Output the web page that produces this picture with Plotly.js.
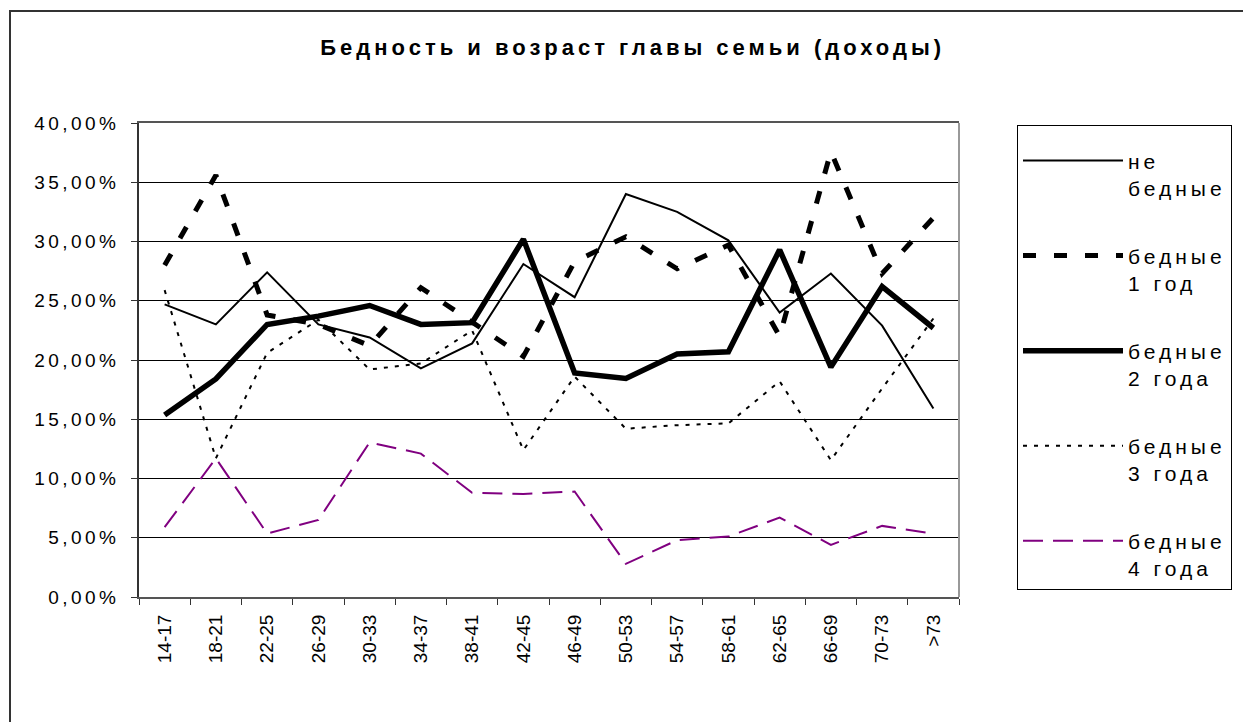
<!DOCTYPE html>
<html>
<head>
<meta charset="utf-8">
<script src="https://cdn.plot.ly/plotly-3.0.1.min.js"></script>
<style>
  html, body { margin: 0; padding: 0; background: #fff; }
  #wrap { position: relative; width: 1243px; height: 722px; overflow: hidden; }
  #frame { position: absolute; left: 9px; top: 10px; width: 1300px; height: 800px;
           border-left: 2px solid #333; border-top: 2px solid #333; pointer-events: none; }
  #chart { position: absolute; left: 0; top: 0; width: 1243px; height: 722px; }
  .gtitle { letter-spacing: 4px; }
  .ytick text { letter-spacing: 3.4px; }
  .legendtext { letter-spacing: 4px; }
</style>
</head>
<body>
<div id="wrap">
  <div id="chart"></div>
  <div id="frame"></div>
</div>
<script>
const categories = ['14-17','18-21','22-25','26-29','30-33','34-37','38-41','42-45','46-49','50-53','54-57','58-61','62-65','66-69','70-73','>73'];
const seriesNames = ['не<br>бедные', 'бедные<br>1 год', 'бедные<br>2 года', 'бедные<br>3 года', 'бедные<br>4 года'];
const notPoor = [24.7, 23.0, 27.4, 23.0, 21.9, 19.3, 21.4, 28.1, 25.3, 34.0, 32.5, 30.1, 24.0, 27.3, 22.9, 15.9];
const poor1   = [28.0, 35.6, 23.8, 23.0, 21.2, 26.1, 23.2, 20.3, 28.3, 30.4, 27.7, 29.7, 22.0, 37.6, 27.3, 32.0];
const poor2   = [15.35, 18.4, 23.0, 23.7, 24.6, 23.0, 23.15, 30.2, 18.9, 18.45, 20.5, 20.7, 29.3, 19.4, 26.2, 22.7];
const poor3   = [25.9, 11.7, 20.6, 23.4, 19.2, 19.7, 22.5, 12.4, 18.6, 14.2, 14.5, 14.65, 18.2, 11.55, 17.6, 23.5];
const poor4   = [5.9, 11.7, 5.35, 6.5, 13.05, 12.1, 8.8, 8.7, 8.9, 2.8, 4.8, 5.1, 6.7, 4.4, 6.0, 5.35];

const styles = [
  {color: '#000000', width: 2, dash: 'solid'},
  {color: '#000000', width: 5, dash: '13px,18px'},
  {color: '#000000', width: 5.5, dash: 'solid'},
  {color: '#000000', width: 2, dash: '4px,7px'},
  {color: '#800080', width: 2, dash: '20px,10px'}
];
const values = [notPoor, poor1, poor2, poor3, poor4];

const traces = values.map((v, i) => ({
  type: 'scatter',
  mode: 'lines',
  x: categories,
  y: v,
  name: seriesNames[i],
  legendgroup: 'g' + i,
  line: {color: styles[i].color, width: styles[i].width, dash: styles[i].dash},
  hoverinfo: 'x+y+name'
}));

const font = 'Liberation Sans, Arial, sans-serif';
const layout = {
  width: 1243,
  height: 722,
  paper_bgcolor: 'rgba(0,0,0,0)',
  plot_bgcolor: '#ffffff',
  margin: {l: 139, r: 283, t: 123, b: 125, pad: 0},
  separators: ', ',
  font: {family: font, color: '#000'},
  title: {
    text: '<b>Бедность и возраст главы семьи (доходы)</b>',
    font: {family: font, size: 22, color: '#000'},
    x: 0.509, xanchor: 'center', xref: 'container',
    y: 1 - 47/722, yanchor: 'middle', yref: 'container'
  },
  xaxis: {
    type: 'category',
    range: [-0.5, 15.5],
    showgrid: false,
    zeroline: false,
    showline: true, linecolor: '#555', linewidth: 2, mirror: true,
    ticks: 'outside', tickson: 'boundaries', ticklen: 6, tickcolor: '#333', tickwidth: 1,
    tickangle: -90,
    tickfont: {family: font, size: 19, color: '#000'},
    ticklabelstandoff: 8
  },
  yaxis: {
    range: [0, 40],
    dtick: 5,
    tick0: 0,
    tickformat: '.2f',
    ticksuffix: '%',
    showgrid: true, gridcolor: '#000', gridwidth: 1,
    zeroline: false,
    showline: true, linecolor: '#333', linewidth: 2, mirror: false,
    ticks: 'outside', ticklen: 6, tickcolor: '#333', tickwidth: 1,
    tickfont: {family: font, size: 19, color: '#000'},
    ticklabelstandoff: 8
  },
  shapes: [
    {type: 'line', xref: 'paper', yref: 'paper', x0: 1, x1: 1, y0: 0, y1: 1,
     line: {color: '#999', width: 2}}
  ],
  legend: {
    x: (1017 - 139) / 821,
    xanchor: 'left',
    y: (597 - 125) / 474,
    yanchor: 'top',
    bgcolor: '#ffffff',
    bordercolor: '#000',
    borderwidth: 1,
    font: {family: font, size: 21, color: '#000'},
    title: {text: '\u00a0', font: {family: font, size: 11}},
    tracegroupgap: 37.5,
    itemwidth: 100,
    valign: 'top'
  },
  showlegend: true
};

Plotly.newPlot('chart', traces, layout, {displayModeBar: false, staticPlot: true});
</script>
</body>
</html>
